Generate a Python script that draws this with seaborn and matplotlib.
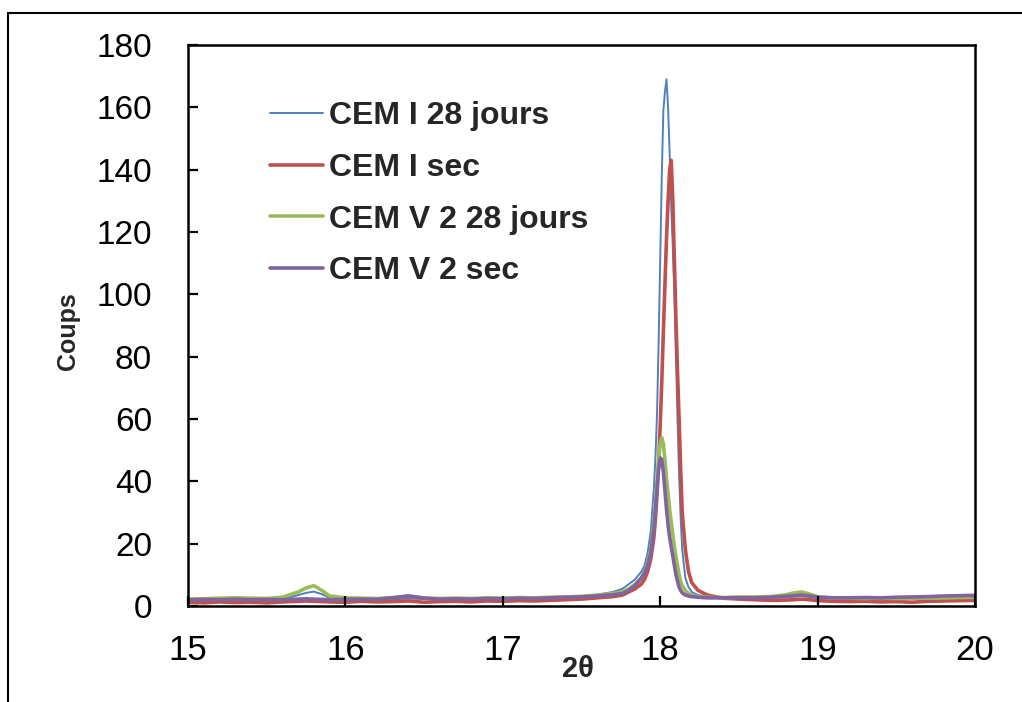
import matplotlib
matplotlib.use("Agg")
import matplotlib.pyplot as plt
import seaborn as sns
import pandas as pd
from matplotlib.lines import Line2D

# 2-theta positions (deg)
two_theta = [15.0, 15.1, 15.2, 15.3, 15.4, 15.5, 15.6, 15.7, 15.75, 15.8, 15.85, 15.9,
             16.0, 16.1, 16.2, 16.3, 16.4, 16.5, 16.6, 16.7, 16.8, 16.9, 17.0, 17.1,
             17.2, 17.3, 17.4, 17.5, 17.6, 17.7, 17.76, 17.8, 17.84, 17.88, 17.9, 17.92,
             17.94, 17.96, 17.97, 17.98, 17.99, 18.0, 18.01, 18.02, 18.03, 18.04, 18.05,
             18.06, 18.07, 18.08, 18.09, 18.1, 18.11, 18.12, 18.13, 18.14, 18.16, 18.18,
             18.2, 18.24, 18.3, 18.4, 18.5, 18.6, 18.7, 18.8, 18.85, 18.9, 18.95, 19.0,
             19.1, 19.2, 19.3, 19.4, 19.5, 19.6, 19.7, 19.8, 19.9, 20.0]

cem1_28j = [2.0, 2.1, 1.9, 2.0, 2.1, 2.0, 2.2, 3.5, 4.2, 4.6, 3.8, 2.6,
            2.1, 2.0, 2.2, 2.1, 2.4, 2.2, 2.0, 2.1, 2.2, 2.3, 2.2, 2.4,
            2.3, 2.6, 2.8, 3.0, 3.6, 4.5, 5.5, 7.0, 8.5, 11.0, 13.0, 17.0,
            24.0, 38.0, 48.0, 62.0, 85.0, 111.0, 138.0, 159.0, 165.0, 169.0, 160.0,
            145.0, 128.0, 115.0, 100.0, 80.0, 60.0, 42.0, 28.0, 18.0, 9.0, 6.0,
            4.5, 3.5, 3.0, 2.8, 2.6, 2.5, 2.6, 2.8, 3.0, 3.2, 2.9, 2.6,
            2.3, 2.2, 2.1, 2.2, 2.3, 2.2, 2.4, 2.5, 2.7, 2.9]

cem1_sec = [1.2, 1.0, 1.3, 1.1, 1.2, 1.0, 1.3, 1.5, 1.6, 1.5, 1.4, 1.3,
            1.2, 1.5, 1.3, 1.4, 1.6, 1.2, 1.4, 1.5, 1.3, 1.6, 1.5, 1.7,
            1.6, 1.8, 2.0, 2.2, 2.6, 3.0, 3.5, 4.5, 5.5, 7.0, 8.5, 11.0,
            15.0, 22.0, 28.0, 36.0, 46.0, 58.0, 72.0, 88.0, 103.0, 118.0, 130.0,
            140.0, 143.0, 130.0, 111.0, 92.0, 75.0, 60.0, 44.0, 30.0, 18.0, 11.0,
            7.5, 5.0, 3.5, 2.5, 2.2, 2.0, 1.8, 1.9, 2.0, 2.2, 2.0, 1.7,
            1.5, 1.4, 1.5, 1.3, 1.4, 1.2, 1.5, 1.6, 1.7, 1.8]

cem5_28j = [2.2, 2.3, 2.5, 2.6, 2.5, 2.4, 2.8, 4.5, 5.8, 6.5, 5.0, 3.2,
            2.6, 2.5, 2.4, 2.7, 3.2, 2.6, 2.4, 2.5, 2.4, 2.6, 2.5, 2.7,
            2.6, 2.8, 2.9, 3.1, 3.5, 4.0, 4.5, 5.5, 7.0, 9.0, 11.0, 14.0,
            18.0, 27.0, 33.0, 40.0, 47.0, 52.0, 54.0, 52.0, 47.0, 41.0, 36.0,
            31.0, 27.0, 23.0, 19.0, 16.0, 13.0, 10.0, 8.0, 6.5, 5.0, 4.0,
            3.5, 3.0, 2.8, 2.7, 2.8, 2.9, 3.0, 3.6, 4.2, 4.5, 3.8, 3.0,
            2.6, 2.5, 2.4, 2.5, 2.4, 2.5, 2.6, 2.6, 2.7, 2.8]

cem5_sec = [2.0, 2.1, 2.0, 2.2, 2.0, 2.1, 2.0, 2.2, 2.3, 2.2, 2.1, 2.0,
            2.1, 2.2, 2.1, 2.6, 3.2, 2.5, 2.2, 2.3, 2.2, 2.4, 2.3, 2.5,
            2.4, 2.6, 2.8, 2.9, 3.2, 3.6, 4.0, 5.0, 6.5, 9.0, 10.5, 13.0,
            17.0, 25.0, 31.0, 38.0, 44.0, 47.5, 47.0, 43.0, 37.0, 31.0, 26.0,
            22.0, 19.0, 16.0, 13.0, 10.0, 8.0, 6.0, 5.0, 4.2, 3.5, 3.2,
            3.0, 2.8, 2.6, 2.6, 2.7, 2.6, 2.8, 3.1, 3.3, 3.5, 3.2, 2.8,
            2.6, 2.6, 2.7, 2.6, 2.8, 2.9, 3.0, 3.2, 3.3, 3.4]

series = ["CEM I 28 jours", "CEM I sec", "CEM V 2 28 jours", "CEM V 2 sec"]
colors = ["#4F81BD", "#C0504D", "#9BBB59", "#8064A2"]
widths = [1.4, 2.6, 2.6, 2.6]

df = pd.DataFrame({"2theta": two_theta, series[0]: cem1_28j, series[1]: cem1_sec,
                   series[2]: cem5_28j, series[3]: cem5_sec})

sns.set_theme(style="white")
plt.rcParams["font.family"] = ["Liberation Sans", "DejaVu Sans"]
plt.rcParams["xtick.bottom"] = True
plt.rcParams["ytick.left"] = True

fig = plt.figure(figsize=(10.22, 7.02), dpi=100)
ax = fig.add_axes([0.184, 0.1368, 0.77, 0.7991])

for name, c, lw in zip(series, colors, widths):
    sns.lineplot(data=df, x="2theta", y=name, color=c, lw=lw, label=name,
                 estimator=None, ax=ax)

ax.set_xlim(15, 20)
ax.set_ylim(0, 180)
ax.set_xticks(range(15, 21))
ax.set_yticks(range(0, 181, 20))
ax.set_axisbelow(False)
ax.tick_params(direction="in", length=7, width=1.6, colors="black",
               bottom=True, left=True, top=False, right=False)
ax.tick_params(axis="y", pad=26, labelsize=24)
ax.tick_params(axis="x", pad=20, labelsize=25)
for s in ax.spines.values():
    s.set_color("black")
    s.set_linewidth(1.8)

ax.set_xlabel("2θ", fontsize=21, fontweight="bold")
ax.set_ylabel("Coups", fontsize=18, fontweight="bold")
ax.xaxis.set_label_coords(0.496, -0.088)
ax.yaxis.set_label_coords(-0.137, 0.49)

ax.legend(loc="upper left", bbox_to_anchor=(0.104, 0.90), frameon=False,
          borderaxespad=0, borderpad=0, handlelength=1.65, handletextpad=0.2,
          labelspacing=0.68, prop={"size": 23, "weight": "bold"})

# outer frame of the original figure (left and top edges)
fig.add_artist(Line2D([0.0078, 0.0078], [0, 0.9815], color="black", lw=1.5,
                      transform=fig.transFigure))
fig.add_artist(Line2D([0.0078, 1.0], [0.9815, 0.9815], color="black", lw=1.5,
                      transform=fig.transFigure))

fig.savefig("out.png", dpi=100)
